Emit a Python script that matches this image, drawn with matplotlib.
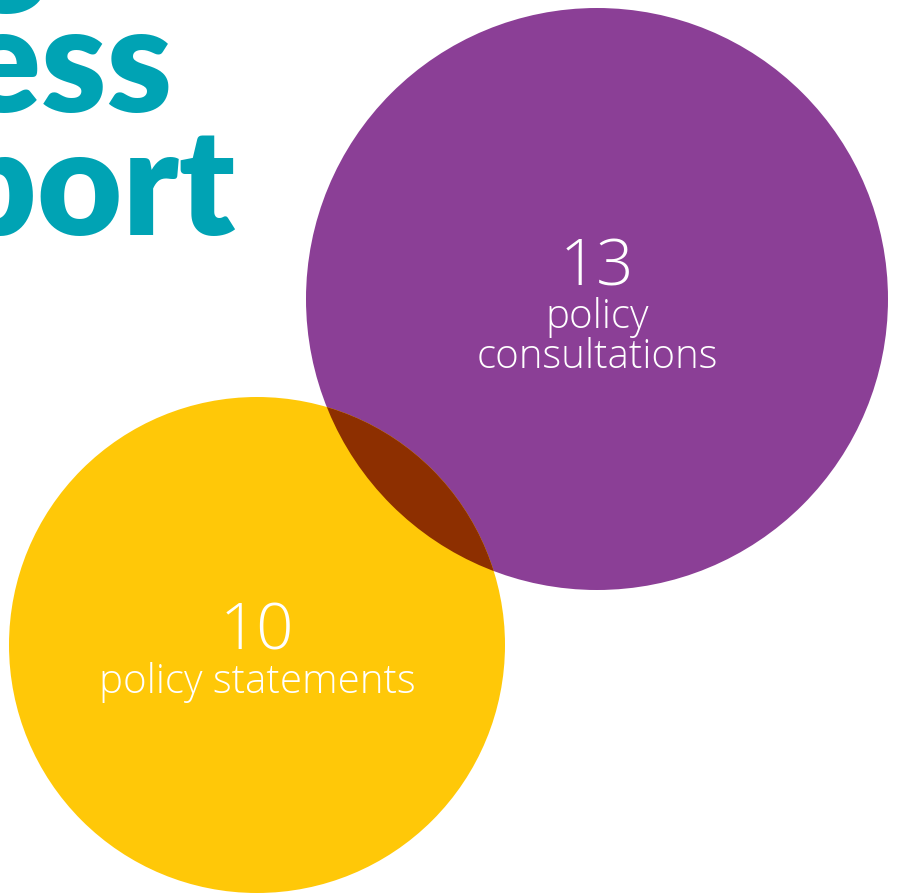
import matplotlib
matplotlib.use("Agg")
import matplotlib.pyplot as plt
from matplotlib.patches import Circle

# ---- data ----
values = [13, 10]
labels = ["policy\nconsultations", "policy statements"]
title_lines = ["Helping", "business", "support"]

# ---- layout / style ----
W, H = 899, 893
centers = [(597, 299), (257, 645)]
radii = [291, 248]
colors = ["#8B3F96", "#FFC808"]
overlap_color = "#8D2F00"
teal = "#00A3B4"
label_font = ["Open Sans", "DejaVu Sans"]

fig = plt.figure(figsize=(W / 100, H / 100), dpi=100)
ax = fig.add_axes([0, 0, 1, 1])
ax.set_xlim(0, W)
ax.set_ylim(H, 0)
ax.set_aspect("equal")
ax.axis("off")

# title (cropped off left edge, as in the reference)
title_rights = [48, 172, 236]
title_baselines = [-12, 112, 235]
for t, xr, yb in zip(title_lines, title_rights, title_baselines):
    ax.text(xr, yb, t, ha="right", va="baseline", fontsize=106,
            fontweight="heavy", family=["Lato", "DejaVu Sans"], color=teal, zorder=1)

circles = []
for c, r, col in zip(centers, radii, colors):
    p = Circle(c, r, facecolor=col, edgecolor="none", zorder=2)
    ax.add_patch(p)
    circles.append(p)

ov = Circle(centers[1], radii[1], facecolor=overlap_color, edgecolor="none", zorder=3)
ax.add_patch(ov)
ov.set_clip_path(circles[0])

# numbers and labels
num_baselines = [285, 650]
for (cx, cy), v, lab, nb in zip(centers, values, labels, num_baselines):
    ax.text(cx, nb, str(v), ha="center", va="baseline", fontsize=47,
            fontweight="light", family=label_font, color="white", zorder=4)
    lines = lab.split("\n")
    for i, ln in enumerate(lines):
        ax.text(cx, nb + 43 + i * 40, ln, ha="center", va="baseline", fontsize=29,
                fontweight="light", family=label_font, color="white", zorder=4)

fig.savefig("out.png", dpi=100)
